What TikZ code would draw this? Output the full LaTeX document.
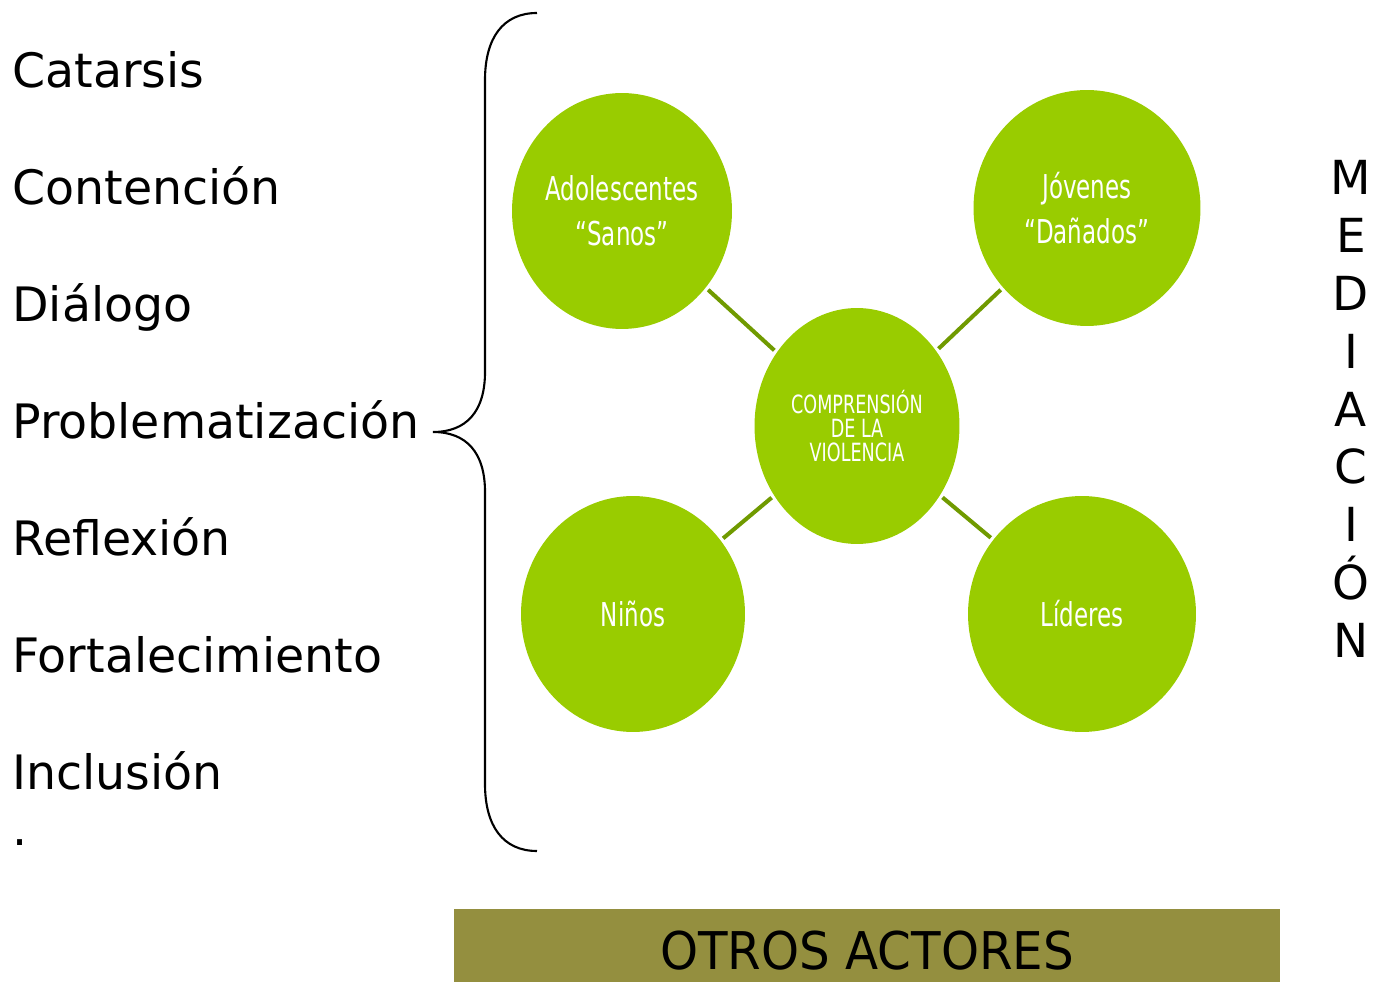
\documentclass[tikz,border=0pt]{standalone}
\usepackage{fontspec}
\setmainfont{DejaVu Sans}
\newfontfamily\narrowfont[FakeStretch=0.7]{DejaVu Sans}
\newfontfamily\boxfont[FakeStretch=0.93]{DejaVu Sans}
\usepackage{tikz}
\usetikzlibrary{shapes.geometric}
\definecolor{actorcolor}{RGB}{153,204,0}
\definecolor{linkcolor}{RGB}{112,154,0}
\definecolor{boxcolor}{RGB}{148,143,63}

\begin{document}
\begin{tikzpicture}[x=0.02cm, y=-0.02cm,
			actor/.style={ellipse, fill=actorcolor, text=white, inner sep=0pt, minimum height=4.72cm, align=center, font=\narrowfont\fontsize{18.7}{25.6}\selectfont},
			link/.style={draw=linkcolor, line width=2.3pt, shorten <=0.06cm, shorten >=0.06cm},
			item/.style={anchor=base west, inner sep=0pt, font=\fontsize{27}{32}\selectfont},
			otherbox/.style={fill=boxcolor, inner sep=0pt, minimum width=16.52cm, minimum height=1.46cm, text height=0.96cm, text depth=0pt, font=\boxfont\fontsize{29.6}{32}\selectfont},
		]

		\useasboundingbox (0,0) rectangle (1380,982);

		% left column
		\foreach \word [count=\i] in {Catarsis, Contención, Diálogo, Problematización, Reflexión, Fortalecimiento, Inclusión}
			\node[item] (item\i) at (12, 88+117*\i-117) {\word};
		\node[item] (dot) at (12,846) {.};

		% brace
		\coordinate (bracetop) at (537,13);
		\coordinate (bracetip) at (433,432);
		\coordinate (bracebottom) at (537,851);
		\draw[line width=1.2pt] (bracetop) .. controls (503,13) and (485,38) .. (485,80) -- (485,372)
			.. controls (485,412) and (466,432) .. (bracetip)
			.. controls (466,432) and (485,452) .. (485,492) -- (485,784)
			.. controls (485,826) and (503,851) .. (bracebottom);

		\node[actor, minimum width=4.4cm]  (adol)  at (622,211)  {Adolescentes\\“Sanos”};
		\node[actor, minimum width=4.54cm] (jov)   at (1087,208) {Jóvenes\\“Dañados”};
		\node[actor, minimum width=4.1cm, font=\narrowfont\fontsize{14.3}{13.8}\selectfont] (comp) at (857,426) {COMPRENSIÓN\\DE LA\\VIOLENCIA};
		\node[actor, minimum width=4.48cm] (ninos) at (633,614)  {Niños};
		\node[actor, minimum width=4.56cm] (lid)   at (1082,614) {Líderes};

		\draw[link] (adol) -- (comp);
		\draw[link] (jov) -- (comp);
		\draw[link] (ninos) -- (comp);
		\draw[link] (lid) -- (comp);

		\node[inner sep=0pt, align=center, font=\fontsize{26.7}{32.9}\selectfont] (med) at (1351,409) {M\\E\\D\\I\\A\\C\\I\\Ó\\N};

		\node[otherbox] (otros) at (867,945.5) {OTROS ACTORES};

\end{tikzpicture}
\end{document}
